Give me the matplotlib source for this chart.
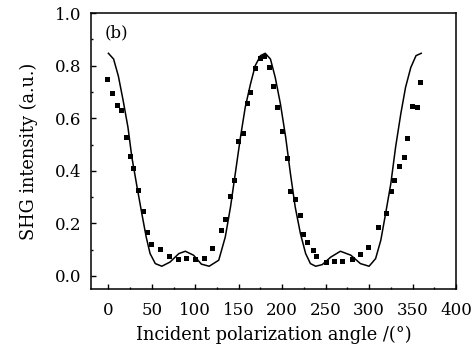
import matplotlib.pyplot as plt
from matplotlib.ticker import MultipleLocator

# Fitted curve
fit_angle = [0, 6, 11.5, 17, 22.5, 27, 33, 38.5, 43.5, 48, 54, 61.5, 71, 81, 88.5,
             98, 107, 116, 127, 134.5, 140.5, 146, 152, 157.5, 163.5, 169, 175,
             180.5, 186.5, 192, 198, 204, 209.5, 215, 221, 227, 232.5, 238.5, 246,
             256, 267, 279, 290, 300, 307.5, 313.5, 319, 325, 330.5, 336.5, 342,
             348, 354, 360]
fit_value = [0.847, 0.825, 0.76, 0.667, 0.566, 0.452, 0.338, 0.237, 0.148, 0.085,
             0.047, 0.037, 0.053, 0.085, 0.094, 0.079, 0.045, 0.037, 0.06, 0.148,
             0.262, 0.389, 0.528, 0.642, 0.73, 0.80, 0.838, 0.847, 0.825, 0.755,
             0.654, 0.528, 0.389, 0.262, 0.161, 0.085, 0.047, 0.037, 0.043, 0.072,
             0.094, 0.079, 0.047, 0.037, 0.066, 0.136, 0.237, 0.351, 0.49, 0.617,
             0.718, 0.793, 0.838, 0.847]

# Measured points
meas_angle = [-2, 4, 10, 15, 20, 25, 28.5, 34.5, 40, 44, 49, 59, 70, 80, 89, 100,
              110, 119, 130, 134, 139.5, 145, 149, 154.5, 159.5, 163.5, 169, 174,
              179.5, 184.5, 190, 194, 200, 206, 209, 214.5, 220, 224, 229, 235,
              238.5, 250.5, 259.5, 269, 280.5, 289.5, 299, 310.5, 320, 325, 329,
              334.5, 340, 344, 349, 355.5, 359]
meas_value = [0.75, 0.695, 0.652, 0.633, 0.528, 0.458, 0.41, 0.328, 0.247, 0.167,
              0.123, 0.101, 0.075, 0.063, 0.067, 0.063, 0.069, 0.107, 0.174, 0.216,
              0.305, 0.365, 0.515, 0.543, 0.657, 0.699, 0.79, 0.829, 0.838, 0.793,
              0.721, 0.642, 0.553, 0.45, 0.323, 0.294, 0.233, 0.158, 0.129, 0.097,
              0.075, 0.055, 0.057, 0.057, 0.065, 0.085, 0.11, 0.188, 0.239, 0.323,
              0.366, 0.42, 0.452, 0.524, 0.648, 0.644, 0.737]

plt.rcParams['font.family'] = ['DejaVu Serif']
plt.rcParams['font.size'] = 12

fig = plt.figure(figsize=(4.74, 3.53), dpi=100)
ax = fig.add_axes([0.192, 0.181, 0.770, 0.782])

ax.plot(fit_angle, fit_value, color='black', lw=1.1)
ax.plot(meas_angle, meas_value, 's', color='black', ms=3.6, mew=0)

ax.set_xlim(-20, 400)
ax.set_ylim(-0.05, 1.0)
ax.xaxis.set_major_locator(MultipleLocator(50))
ax.xaxis.set_minor_locator(MultipleLocator(25))
ax.yaxis.set_major_locator(MultipleLocator(0.2))
ax.yaxis.set_minor_locator(MultipleLocator(0.1))
ax.yaxis.set_major_formatter(plt.FormatStrFormatter('%.1f'))
ax.tick_params(which='both', direction='in', top=False, right=False, width=1)
ax.tick_params(which='major', length=3.5)
ax.tick_params(axis='x', which='major', pad=9)
ax.tick_params(axis='y', which='major', pad=7)
ax.tick_params(which='minor', length=1.5)
for s in ax.spines.values():
    s.set_linewidth(1.1)

ax.text(0.036, 0.93, '(b)', transform=ax.transAxes, va='center', ha='left')
ax.set_xlabel('Incident polarization angle /(°)', fontsize=12.8, labelpad=5)
ax.set_ylabel('SHG intensity (a.u.)', fontsize=12.8, labelpad=12)

plt.savefig('out.png', dpi=100)
